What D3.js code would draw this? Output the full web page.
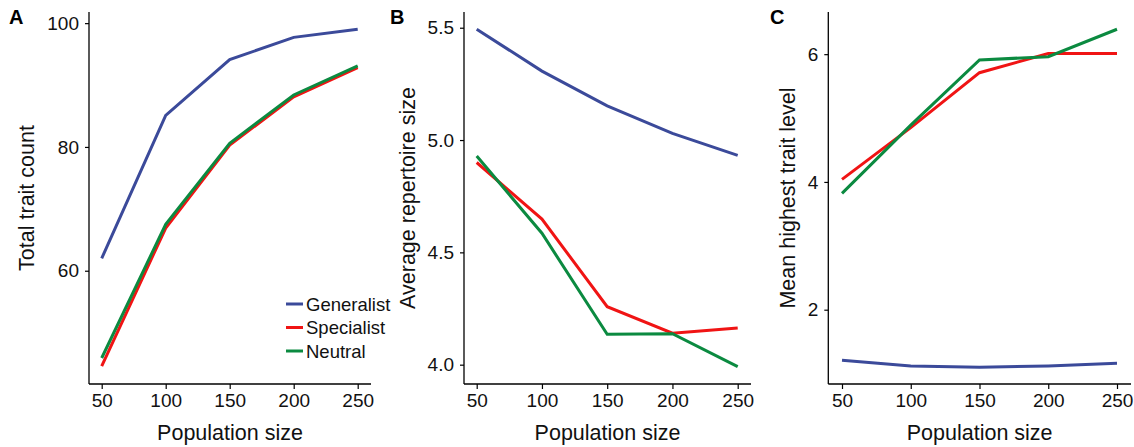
<!DOCTYPE html>
<html>
<head>
<meta charset="utf-8">
<script src="https://cdn.jsdelivr.net/npm/d3@7"></script>
<style>
  body { margin: 0; background: #fff; }
  svg { display: block; font-family: "Liberation Sans", Arial, Helvetica, sans-serif; }
</style>
</head>
<body>
<svg id="chart" width="1134" height="447"></svg>
<script>
// data
var popSizes = [50, 100, 150, 200, 250];
var seriesNames = ["Generalist", "Specialist", "Neutral"];
var seriesColors = ["#3b4a9a", "#f01414", "#0b8a40"];

// A: total trait count
var traitCountGen = [62.0, 85.1, 94.1, 97.7, 99.0];
var traitCountSpec = [44.6, 66.9, 80.3, 88.1, 92.8];
var traitCountNeu = [45.9, 67.5, 80.6, 88.4, 93.1];

// B: average repertoire size
var repertoireGen = [5.493, 5.307, 5.152, 5.030, 4.932];
var repertoireSpec = [4.900, 4.648, 4.258, 4.140, 4.163];
var repertoireNeu = [4.929, 4.585, 4.135, 4.138, 3.991];

// C: mean highest trait level
var highestGen = [1.21, 1.12, 1.10, 1.12, 1.16];
var highestSpec = [4.04, 4.85, 5.71, 6.01, 6.01];
var highestNeu = [3.82, 4.89, 5.91, 5.96, 6.39];

var xTicks = [50, 100, 150, 200, 250];

var panels = [
  { label: "A", title: "Total trait count", axisX: 89, x0: 101.7, x1: 357.7, xEnd: 371,
    yDomain: [41.7, 101.8], yTicks: [60, 80, 100], fmt: d3.format("d"),
    series: [traitCountGen, traitCountSpec, traitCountNeu], legend: true, labelX: 9, titleX: 34 },
  { label: "B", title: "Average repertoire size", axisX: 464, x0: 476.7, x1: 737.7, xEnd: 751,
    yDomain: [3.914, 5.57], yTicks: [4.0, 4.5, 5.0, 5.5], fmt: d3.format(".1f"),
    series: [repertoireGen, repertoireSpec, repertoireNeu], legend: false, labelX: 390, titleX: 415 },
  { label: "C", title: "Mean highest trait level", axisX: 828.3, x0: 842, x1: 1117, xEnd: 1131,
    yDomain: [0.837, 6.66], yTicks: [2, 4, 6], fmt: d3.format("d"),
    series: [highestGen, highestSpec, highestNeu], legend: false, labelX: 770, titleX: 795 }
];

var plotTop = 12, plotBottom = 384;
var svg = d3.select("#chart");

panels.forEach(function(p) {
  var x = d3.scaleLinear().domain([50, 250]).range([p.x0, p.x1]);
  var y = d3.scaleLinear().domain(p.yDomain).range([plotBottom, plotTop]);
  var g = svg.append("g");

  // lines
  var line = d3.line()
    .x(function(d, i) { return x(popSizes[i]); })
    .y(function(d) { return y(d); });
  p.series.forEach(function(s, i) {
    g.append("path")
      .datum(s)
      .attr("d", line)
      .attr("fill", "none")
      .attr("stroke", seriesColors[i])
      .attr("stroke-width", 3);
  });

  // x axis
  var xa = g.append("g")
    .attr("transform", "translate(0," + plotBottom + ")")
    .call(d3.axisBottom(x).tickValues(xTicks).tickSize(5).tickPadding(5).tickSizeOuter(0));
  xa.select(".domain").remove();
  xa.append("line").attr("x1", p.axisX).attr("x2", p.xEnd).attr("stroke", "#000").attr("stroke-width", 1.3);
  xa.selectAll(".tick line").attr("stroke-width", 1.2);
  xa.selectAll("text").attr("font-size", 19).attr("fill", "#111").attr("font-family", "Liberation Sans, Arial, sans-serif");

  // y axis
  var ya = g.append("g")
    .attr("transform", "translate(" + p.axisX + ",0)")
    .call(d3.axisLeft(y).tickValues(p.yTicks).tickFormat(p.fmt).tickSize(4).tickPadding(6));
  ya.select(".domain").remove();
  ya.append("line").attr("y1", plotTop).attr("y2", plotBottom).attr("stroke", "#000").attr("stroke-width", 1.3);
  ya.selectAll(".tick line").attr("stroke-width", 1.2);
  ya.selectAll("text").attr("font-size", 19).attr("fill", "#111").attr("font-family", "Liberation Sans, Arial, sans-serif");

  // titles
  g.append("text")
    .attr("x", (p.axisX + p.xEnd) / 2)
    .attr("y", 440)
    .attr("text-anchor", "middle")
    .attr("font-size", 21.5)
    .attr("fill", "#111")
    .text("Population size");

  g.append("text")
    .attr("transform", "translate(" + p.titleX + "," + ((plotTop + plotBottom) / 2) + ") rotate(-90)")
    .attr("text-anchor", "middle")
    .attr("font-size", 21.5)
    .attr("fill", "#111")
    .text(p.title);

  g.append("text")
    .attr("x", p.labelX)
    .attr("y", 24)
    .attr("font-size", 20)
    .attr("font-weight", "bold")
    .attr("fill", "#000")
    .text(p.label);

  if (p.legend) {
    var lg = g.append("g").attr("transform", "translate(286,304)");
    seriesNames.forEach(function(name, i) {
      var row = lg.append("g").attr("transform", "translate(0," + (i * 23.5) + ")");
      row.append("line").attr("x1", 0).attr("x2", 17)
        .attr("stroke", seriesColors[i]).attr("stroke-width", 3);
      row.append("text").attr("x", 20).attr("y", 6.5)
        .attr("font-size", 18.5).attr("fill", "#111").text(name);
    });
  }
});
</script>
</body>
</html>
